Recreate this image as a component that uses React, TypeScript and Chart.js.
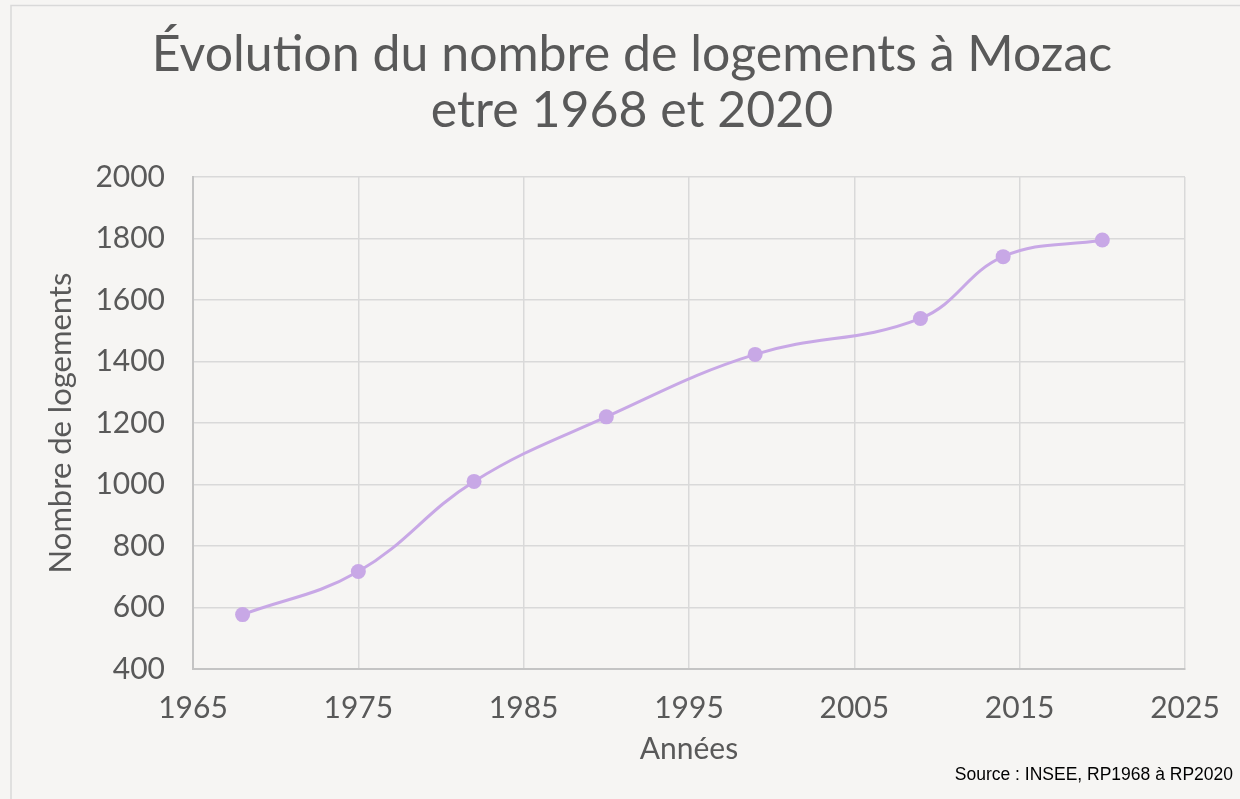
import React, { useEffect, useRef } from "react";
import { Chart, registerables } from "chart.js";

Chart.register(...registerables);

const years = [1968, 1975, 1982, 1990, 1999, 2009, 2014, 2020];
const logements = [577, 717, 1010, 1220, 1423, 1540, 1741, 1795];
const titleLines = ["Évolution du nombre de logements à Mozac", "etre 1968 et 2020"];
const xTitle = "Années";
const yTitle = "Nombre de logements";
const sourceText = "Source : INSEE, RP1968 à RP2020";

const FONT = "Lato, 'Noto Sans', sans-serif";
const TEXT = "#595959";
const BG = "#f6f5f3";

const framePlugin = {
  id: "frame",
  beforeDraw(chart: any) {
    const { ctx, width, height } = chart;
    ctx.save();
    ctx.fillStyle = BG;
    ctx.fillRect(0, 0, width, height);
    ctx.strokeStyle = "#d9d9d9";
    ctx.lineWidth = 1.5;
    ctx.strokeRect(11, 5.5, width + 20, height + 20);
    ctx.restore();
  },
  afterDraw(chart: any) {
    const { ctx, width } = chart;
    ctx.save();
    ctx.fillStyle = "#000000";
    ctx.font = "17.5px 'Liberation Sans', Arial, sans-serif";
    ctx.textAlign = "right";
    ctx.textBaseline = "alphabetic";
    ctx.fillText(sourceText, width - 7, 780);
    ctx.restore();
  },
};

export default function App() {
  const ref = useRef<HTMLCanvasElement>(null);
  useEffect(() => {
    if (!ref.current) return;
    const chart = new Chart(ref.current, {
      type: "line",
      data: {
        datasets: [
          {
            data: years.map((y, i) => ({ x: y, y: logements[i] })),
            borderColor: "#c8a8e6",
            backgroundColor: "#c8a8e6",
            borderWidth: 3,
            pointRadius: 7.5,
            pointHoverRadius: 7.5,
            pointBorderWidth: 0,
            tension: 0.4,
            fill: false,
          },
        ],
      },
      options: {
        animation: false,
        responsive: false,
        maintainAspectRatio: false,
        layout: { padding: { left: 24, right: 0, top: 0, bottom: 0 } },
        plugins: {
          legend: { display: false },
          tooltip: { enabled: false },
          title: {
            display: true,
            text: titleLines,
            color: TEXT,
            font: { family: FONT, size: 50, weight: "normal", lineHeight: 1.12 },
            padding: { top: 26.5, bottom: 38.5 },
          },
        },
        scales: {
          x: {
            type: "linear",
            min: 1965,
            max: 2025,
            ticks: {
              stepSize: 10,
              color: TEXT,
              font: { family: FONT, size: 30 },
              padding: 21,
              callback: (v: any) => String(v),
            },
            grid: { color: "#d9d9d9", lineWidth: 1.5, drawTicks: false },
            border: { color: "#c4c4c4", width: 2 },
            title: {
              display: true,
              text: xTitle,
              color: TEXT,
              font: { family: FONT, size: 30 },
              padding: { top: 0, bottom: 32 },
            },
            afterFit: (s: any) => {
              s.height = 130;
              s.paddingRight = 55;
            },
          },
          y: {
            type: "linear",
            min: 400,
            max: 2000,
            ticks: {
              stepSize: 200,
              color: TEXT,
              font: { family: FONT, size: 30 },
              padding: 28,
              callback: (v: any) => String(v),
            },
            grid: { color: "#d9d9d9", lineWidth: 1.5, drawTicks: false },
            border: { color: "#c4c4c4", width: 2 },
            title: {
              display: true,
              text: yTitle,
              color: TEXT,
              font: { family: FONT, size: 31 },
              padding: { top: 18, bottom: 0 },
            },
            afterFit: (s: any) => {
              s.width = 169;
            },
          },
        },
      },
      plugins: [framePlugin],
    });
    return () => chart.destroy();
  }, []);
  return (
    <div style={{ position: "fixed", left: 0, top: 0, width: 1240, height: 799, background: BG }}>
      <canvas ref={ref} width={1240} height={799} style={{ display: "block" }} />
    </div>
  );
}
